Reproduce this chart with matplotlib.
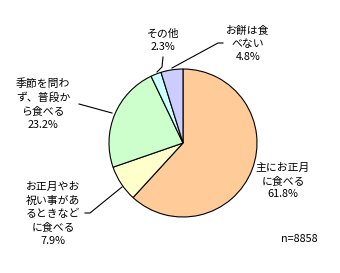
import matplotlib
matplotlib.use("Agg")
import matplotlib.pyplot as plt

plt.rcParams["font.family"] = ["Noto Sans CJK JP", "DejaVu Sans"]

labels = ["主にお正月\nに食べる", "お正月やお\n祝い事があ\nるときなど\nに食べる", "季節を問わ\nず、普段か\nら食べる", "その他", "お餅は食\nべない"]
values = [61.8, 7.9, 23.2, 2.3, 4.8]
colors = ["#FFCC99", "#FFFFCC", "#CCFFCC", "#CCFFFF", "#CCCCFF"]
n_total = 8858

W, H = 340, 273
fig = plt.figure(figsize=(W / 100, H / 100), dpi=100)
ax = fig.add_axes([0, 0, 1, 1])
ax.set_xlim(0, W)
ax.set_ylim(0, H)
ax.set_aspect("equal")
ax.axis("off")


def py(y):
    return H - y


ax.pie(values, colors=colors, startangle=90, counterclock=False,
       center=(183, py(143)), radius=74,
       wedgeprops=dict(edgecolor="black", linewidth=0.8))
ax.set_xlim(0, W)
ax.set_ylim(0, H)

# label positions (pixel coords, y from top)
label_pos = [(283, 181), (53, 214), (43, 104), (163, 40), (248, 44)]
fs = 7.8
for lab, val, (x, y) in zip(labels, values, label_pos):
    ax.text(x, py(y), f"{lab}\n{val:.1f}%", ha="center", va="center",
            fontsize=fs, linespacing=1.4)

# leader lines
leaders = [
    [(163, 57), (162, 67), (157, 72)],
    [(223, 43), (218, 43), (172, 68)],
    [(79, 104), (112, 113)],
    [(85, 213), (90, 213), (122, 187)],
]
for pts in leaders:
    xs = [p[0] for p in pts]
    ys = [py(p[1]) for p in pts]
    ax.plot(xs, ys, color="black", linewidth=0.8)

ax.text(299, py(239), f"n={n_total}", ha="center", va="center", fontsize=fs)

fig.savefig("out.png", dpi=100)
